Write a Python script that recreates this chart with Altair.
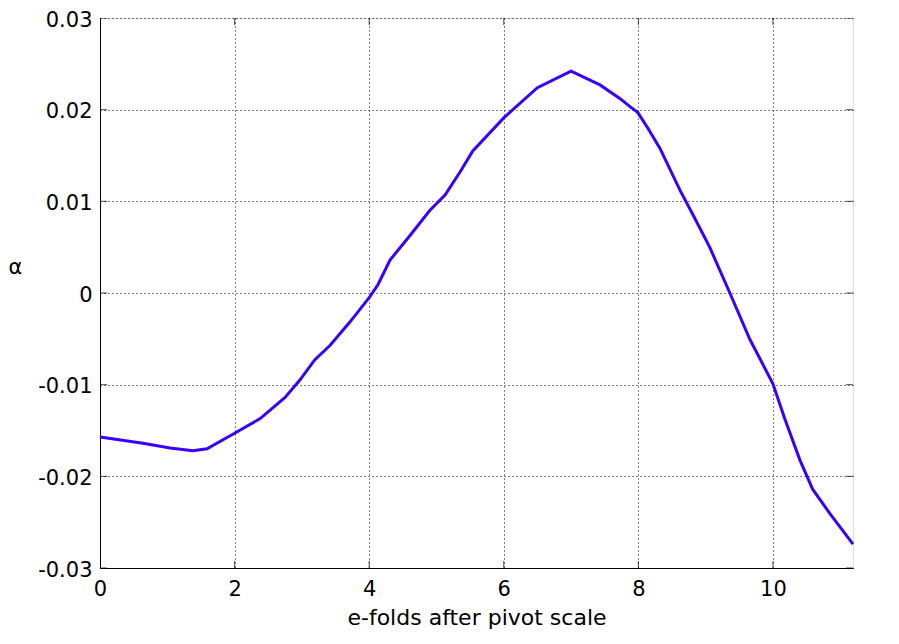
import altair as alt
import pandas as pd

efolds = [0.0, 0.64, 1.04, 1.38, 1.59, 2.0, 2.38, 2.75, 2.97, 3.19, 3.42, 3.71, 4.0, 4.13, 4.31,
          4.61, 4.90, 5.13, 5.35, 5.54, 6.0, 6.5, 7.0, 7.43, 7.73, 7.88, 7.99, 8.14, 8.32, 8.62, 8.80,
          9.06, 9.36, 9.66, 10.0, 10.18, 10.40, 10.59, 10.85, 11.19]
alpha = [-0.0157, -0.0164, -0.0169, -0.0172, -0.0170, -0.0153, -0.0137, -0.0114, -0.0095, -0.0073,
         -0.0057, -0.0032, -0.0005, 0.0009, 0.0036,
         0.0063, 0.0090, 0.0107, 0.0132, 0.0155, 0.0191, 0.0224, 0.0242, 0.0227, 0.0212, 0.0203, 0.0197,
         0.0180, 0.0158, 0.0112, 0.0087,
         0.0050, 0.0000, -0.0051, -0.0099, -0.0138, -0.0182, -0.0214, -0.0241, -0.0274]

x_ticks = [0, 2, 4, 6, 8, 10]
y_ticks = [-0.03, -0.02, -0.01, 0, 0.01, 0.02, 0.03]
x_min, x_max = 0.0, 11.19
y_min, y_max = -0.03, 0.03

df = pd.DataFrame({"x": efolds, "y": alpha})
yt = pd.DataFrame({"y": y_ticks * 2, "x": [x_min] * len(y_ticks) + [x_max] * len(y_ticks)})
xt = pd.DataFrame({"x": x_ticks * 2, "y": [y_min] * len(x_ticks) + [y_max] * len(x_ticks)})

FONT = "DejaVu Sans"

xscale = alt.Scale(domain=[x_min, x_max], nice=False, zero=False)
yscale = alt.Scale(domain=[y_min, y_max], nice=False)

line = alt.Chart(df).mark_line(color="#3a00ff", strokeWidth=3).encode(
    x=alt.X("x:Q", scale=xscale,
            axis=alt.Axis(values=x_ticks, title="e-folds after pivot scale", format="d",
                          grid=True, gridColor="black", gridDash=[1, 3], gridOpacity=1,
                          domainColor="black", tickColor="black", tickSize=0, labelFlush=False,
                          labelFontSize=21, labelFont=FONT, labelColor="black", labelPadding=10,
                          titleFontSize=22, titleFont=FONT, titleFontWeight="normal",
                          titleColor="black", titlePadding=8)),
    y=alt.Y("y:Q", scale=yscale,
            axis=alt.Axis(values=y_ticks, title="α",
                          labelExpr="datum.value == 0 ? '0' : (datum.value < 0 ? '-' + format(-datum.value, '.2f') : format(datum.value, '.2f'))",
                          grid=True, gridColor="black", gridDash=[1, 3], gridOpacity=1,
                          domainColor="black", tickColor="black", tickSize=0,
                          labelFontSize=21, labelFont=FONT, labelColor="black", labelPadding=8,
                          labelOffset=2,
                          titleFontSize=21, titleFont=FONT, titleFontWeight="normal",
                          titleColor="black", titleAngle=0, titleX=-85, titleY=249,
                          titleBaseline="middle", titleAlign="center")),
)

ytick_marks = alt.Chart(yt).mark_tick(orient="horizontal", color="black", thickness=1, size=14, clip=True).encode(
    x=alt.X("x:Q", scale=xscale), y=alt.Y("y:Q", scale=yscale))
xtick_marks = alt.Chart(xt).mark_tick(orient="vertical", color="black", thickness=1, size=14, clip=True).encode(
    x=alt.X("x:Q", scale=xscale), y=alt.Y("y:Q", scale=yscale))

chart = alt.layer(ytick_marks, xtick_marks, line).properties(
    width=753, height=550,
    autosize=alt.AutoSizeParams(type="none"),
    padding={"left": 92, "top": 10, "right": 30, "bottom": 68},
).configure_view(stroke="black", strokeWidth=1).configure(background="white")

chart.save("out.html", embed_options={"renderer": "svg", "actions": False})
